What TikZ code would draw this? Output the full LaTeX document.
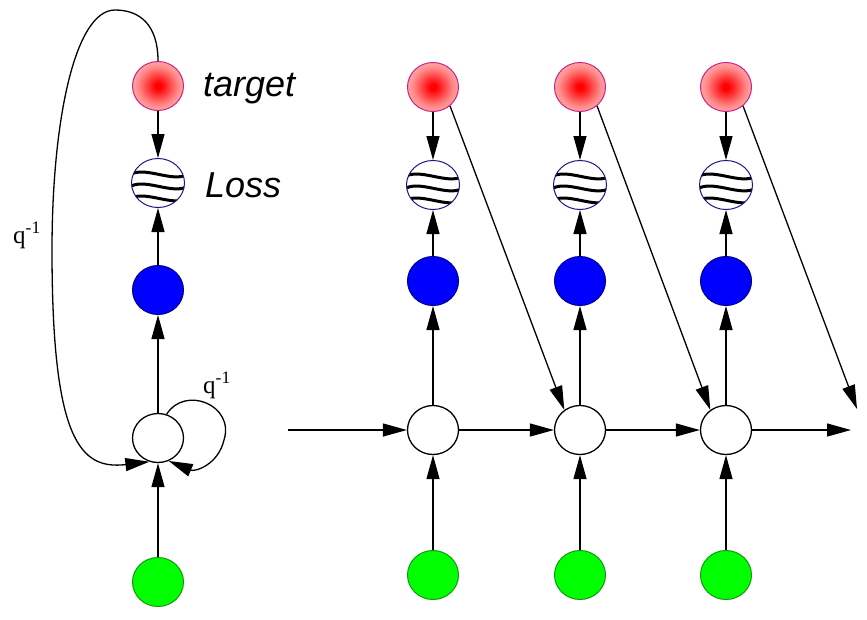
\documentclass[tikz,border=0pt]{standalone}
\usepackage{fontspec}
\setmainfont{Liberation Serif}
\setsansfont{Liberation Sans}
\usetikzlibrary{arrows.meta,shapes.geometric}
\definecolor{tgtborder}{HTML}{CC2288}
\definecolor{lossborder}{HTML}{1A1A80}
\definecolor{grnborder}{HTML}{119911}
\definecolor{bluborder}{HTML}{000088}
\pgfdeclareradialshading{tshade}{\pgfpoint{0bp}{0bp}}{color(0bp)=(red); color(3bp)=(red); color(20bp)=(red!45); color(38bp)=(red!13); color(50bp)=(red!6); color(75bp)=(red!6)}
\tikzset{
  unit/.style={ellipse, minimum width=51pt, minimum height=49pt, inner sep=0pt, line width=1pt},
  tgtnode/.style={unit, draw=tgtborder, shading=tshade},
  lossnode/.style={unit, draw=lossborder, fill=white, minimum width=53pt,
    path picture={
      \foreach \d in {-10,2,14}{
        \draw[draw=black, line width=3pt] ([shift={(-30,\d+3)}]path picture bounding box.center)
          .. controls +(15,-12) and +(-15,10) .. ([shift={(30,\d+1)}]path picture bounding box.center);
      }}},
  outnode/.style={unit, draw=bluborder, fill=blue},
  hidnode/.style={unit, draw=black, fill=white, line width=1.3pt},
  innode/.style={unit, draw=grnborder, fill=green},
  arr/.style={line width=1.3pt, -{Triangle[length=24pt,width=13pt]}},
  bigtxt/.style={font=\sffamily\itshape\fontsize{36}{40}\selectfont, anchor=base west, inner sep=0pt},
  qtxt/.style={font=\fontsize{25}{28}\selectfont, anchor=base west, inner sep=0pt}
}
\begin{document}
\begin{tikzpicture}[x=1pt,y=-1pt]
\useasboundingbox[fill=white] (0,0) rectangle (867,619);
% left folded network
\node[tgtnode] (t0) at (158,86) {};
\node[lossnode] (l0) at (158,183) {};
\node[outnode] (b0) at (158,290) {};
\node[hidnode] (h0) at (158,438) {};
\node[innode] (g0) at (158,582) {};
\node[bigtxt] (tt) at (203,96) {target};
\node[bigtxt] (lt) at (205,197) {Loss};
\node[qtxt] (q1) at (13,243) {q\textsuperscript{-1}};
\node[qtxt] (q2) at (203,393) {q\textsuperscript{-1}};
\draw[arr] (t0) -- (l0);
\draw[arr] (b0) -- (l0);
\draw[arr] (h0) -- (b0);
\draw[arr] (g0) -- (h0);
\draw[arr] (t0.north) .. controls (158,25) and (140,10) .. (115,10)
  .. controls (75,10) and (52,120) .. (52,250)
  .. controls (52,440) and (80,470) .. (h0.-110);
\draw[arr] (h0.70) .. controls (185,385) and (235,405) .. (224,440)
  .. controls (218,465) and (195,472) .. (h0.-65);
% unfolded network
\foreach \i/\x in {1/433,2/580,3/726}{
  \node[tgtnode] (t\i) at (\x,87) {};
  \node[lossnode] (l\i) at (\x,185) {};
  \node[outnode] (b\i) at (\x,281) {};
  \node[hidnode] (h\i) at (\x,430) {};
  \node[innode] (g\i) at (\x,575) {};
  \draw[arr] (t\i) -- (l\i);
  \draw[arr] (b\i) -- (l\i);
  \draw[arr] (h\i) -- (b\i);
  \draw[arr] (g\i) -- (h\i);
}
\coordinate (hin) at (288,430);
\coordinate (hout) at (851,430);
\coordinate (dout) at (857,409);
\draw[arr] (hin) -- (h1);
\draw[arr] (h1) -- (h2);
\draw[arr] (h2) -- (h3);
\draw[arr] (h3) -- (hout);
\draw[arr] (t1.-48) -- (h2.128);
\draw[arr] (t2.-48) -- (h3.128);
\draw[arr] (t3.-48) -- (dout);
\end{tikzpicture}
\end{document}
